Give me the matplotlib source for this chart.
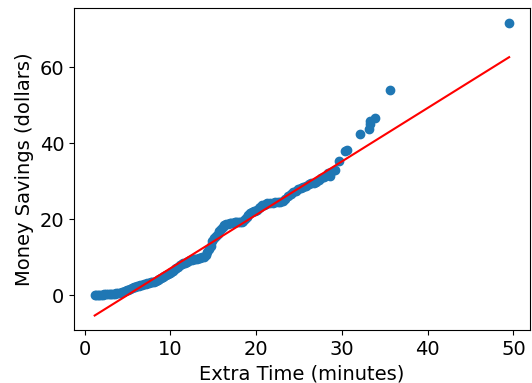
import matplotlib
matplotlib.use('Agg')
import matplotlib.pyplot as plt
import numpy as np

# extra time (minutes) vs money savings (dollars)
extra_time = [
    1.16, 1.3, 1.5, 1.7, 1.9, 2.1, 2.3, 2.5, 2.7, 2.9, 3.1, 3.3, 3.5, 3.7, 3.9,
    4.1, 4.3, 4.5, 4.7, 4.9, 5.1, 5.3, 5.5, 5.7, 5.9, 6.1, 6.3, 6.5, 6.7, 6.9,
    7.1, 7.3, 7.5, 7.7, 7.9, 8.1, 8.3, 8.5, 8.7, 8.9, 9.1, 9.3, 9.5, 9.7, 9.9,
    10.1, 10.3, 10.5, 10.7, 10.9, 11.1, 11.3, 11.5, 11.7, 11.9, 12.1, 12.3, 12.5,
    12.7, 12.9, 13.1, 13.3, 13.5, 13.7, 13.9, 14.1, 14.3, 14.5, 14.7, 14.9,
    15.1, 15.3, 15.5, 15.7, 15.9, 16.1, 16.3, 16.5, 16.7, 16.9, 17.1, 17.3,
    17.5, 17.7, 17.9, 18.1, 18.3, 18.5, 18.7, 18.9, 19.1, 19.3, 19.5, 19.7,
    19.9, 20.1, 20.3, 20.5, 20.7, 20.9, 21.1, 21.3, 21.6, 21.9, 22.2, 22.5,
    22.8, 23.1, 23.4, 23.7, 24.0, 24.3, 24.6, 24.9, 25.2, 25.5, 25.8, 26.1,
    26.4, 26.7, 27.0, 27.3, 27.6, 27.9, 28.2, 28.4, 28.6, 28.7,
    29.2, 29.6, 30.4, 30.6, 32.1, 33.2, 33.3, 33.3, 33.9, 35.6, 49.5,
]
money_savings = [
    0.0, 0.1, 0.1, 0.1, 0.1, 0.1, 0.2, 0.2, 0.2, 0.2, 0.3, 0.3, 0.3, 0.4, 0.5,
    0.6, 0.7, 0.9, 1.0, 1.2, 1.4, 1.6, 1.8, 2.0, 2.1, 2.3, 2.4, 2.6, 2.7, 2.8,
    3.0, 3.1, 3.2, 3.3, 3.4, 3.5, 3.7, 3.9, 4.1, 4.4, 4.7, 5.0, 5.3, 5.5, 5.8,
    6.1, 6.4, 6.8, 7.1, 7.5, 7.8, 8.1, 8.3, 8.5, 8.8, 9.0, 9.2, 9.3,
    9.4, 9.5, 9.6, 9.7, 9.8, 9.9, 10.1, 10.5, 11.2, 12.0, 13.0, 14.2,
    15.0, 15.5, 16.0, 16.8, 17.5, 18.0, 18.4, 18.7, 18.8, 18.9, 19.0, 19.0,
    19.1, 19.1, 19.2, 19.2, 19.3, 19.5, 20.0, 20.6, 21.1, 21.5, 21.8, 22.0,
    22.2, 22.5, 22.9, 23.3, 23.6, 23.8, 24.0, 24.1, 24.2, 24.3, 24.4, 24.5,
    24.6, 24.7, 25.2, 26.0, 26.7, 27.0, 27.4, 27.9, 28.2, 28.4, 28.7, 29.1,
    29.4, 29.6, 29.8, 30.2, 30.7, 31.2, 31.7, 32.0, 31.3, 32.4,
    33.0, 35.4, 37.8, 38.1, 42.4, 43.8, 45.0, 45.9, 46.6, 54.1, 71.6,
]

# fitted line
fit_slope = 1.407
fit_intercept = -7.03

x = np.array(extra_time)
y = np.array(money_savings)

fig = plt.figure(figsize=(5.32, 3.83), dpi=100)
ax = fig.add_axes([0.139, 0.138, 0.857, 0.84])

ax.scatter(x, y)
xs = np.array([x.min(), x.max()])
ax.plot(xs, fit_slope * xs + fit_intercept, color='red')

ax.set_xlabel('Extra Time (minutes)', fontsize=14)
ax.set_ylabel('Money Savings (dollars)', fontsize=14)
ax.tick_params(labelsize=14)
ax.set_yticks([0, 20, 40, 60])

fig.savefig('out.png', dpi=100)
plt.close()
